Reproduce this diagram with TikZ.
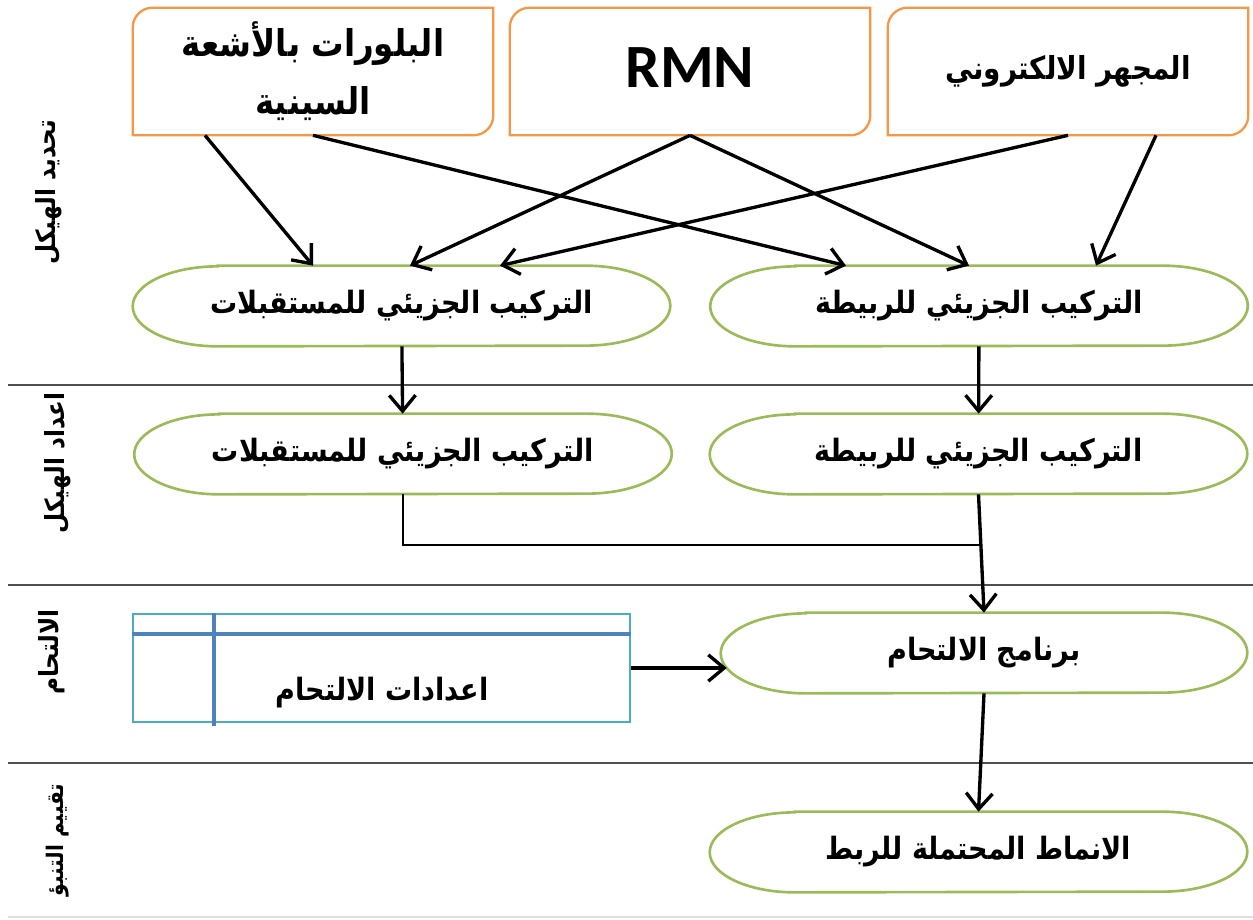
\documentclass[tikz,border=0pt]{standalone}
\usepackage{fontspec}
\setsansfont{Carlito}
\newfontfamily\arabicfont[Script=Arabic, FakeStretch=0.88]{DejaVu Sans}
\TeXXeTstate=1
\usetikzlibrary{calc,arrows.meta}
\definecolor{methodorange}{HTML}{F79646}
\definecolor{stagegreen}{HTML}{9BBB59}
\definecolor{framecyan}{HTML}{4BACC6}
\definecolor{gridblue}{HTML}{4F81BD}
\definecolor{sepgray}{HTML}{505050}
\newcommand{\artxt}[1]{{\arabicfont\bfseries\beginR #1\endR}}

\begin{document}
\begin{tikzpicture}[x=0.02cm, y=-0.02cm, >={Straight Barb[length=9pt,width=15pt]},
  method/.style={minimum width=7.2cm, minimum height=2.54cm, align=center},
  stage/.style={minimum width=10.74cm, minimum height=1.6cm, font=\fontsize{17.5}{21}\selectfont},
  phase/.style={rotate=90, font=\fontsize{15}{18}\selectfont},
  flow/.style={->, line width=1.9pt},
  sepline/.style={draw=sepgray, line width=1.3pt}]
\useasboundingbox (0,0) rectangle (1253,919);

% methods
\node[method, font=\fontsize{21}{33}\selectfont] (XRay) at (313,71.5) {\artxt{البلورات بالأشعة}\\\artxt{السينية}};
\node[method, font=\sffamily\bfseries\fontsize{35}{40}\selectfont, text depth=0pt, text height=18pt] (RMN) at (690,71.5) {RMN};
\node[method, font=\fontsize{18}{22}\selectfont] (Microscope) at (1068,71.5) {\raisebox{-5pt}{\artxt{المجهر الالكتروني}}};
\foreach \n in {XRay,RMN,Microscope}
  \draw[draw=methodorange, line width=1.3pt] (\n.south west) -- ([yshift=-0.4cm]\n.north west) arc[start angle=180, end angle=90, radius=0.4cm]
    -- (\n.north east) -- ([yshift=0.4cm]\n.south east) arc[start angle=0, end angle=-90, radius=0.4cm] -- cycle;

% stages
\node[stage] (ReceptorA) at (401.5,306) {\artxt{التركيب الجزيئي للمستقبلات}};
\node[stage] (LigandA) at (979,306) {\artxt{التركيب الجزيئي للربيطة}};
\node[stage] (ReceptorB) at (403,454) {\artxt{التركيب الجزيئي للمستقبلات}};
\node[stage] (LigandB) at (978.5,454) {\artxt{التركيب الجزيئي للربيطة}};
\node[stage, minimum width=10.52cm] (DockingProgram) at (984,653) {\artxt{برنامج الالتحام}};
\node[stage] (BindingModes) at (978.5,852) {\artxt{الانماط المحتملة للربط}};
\foreach \n in {ReceptorA,LigandA,ReceptorB,LigandB,DockingProgram,BindingModes}
  \draw[draw=stagegreen, line width=1.5pt] ([xshift=1.7cm]\n.north west) -- ([xshift=-1.7cm]\n.north east)
    arc[start angle=90, end angle=-90, x radius=1.7cm, y radius=0.8cm]
    -- ([xshift=1.7cm]\n.south west) arc[start angle=270, end angle=90, x radius=1.7cm, y radius=0.8cm] -- cycle;

\node[draw=framecyan, line width=1.5pt, minimum width=9.94cm, minimum height=2.16cm] (Settings) at (381.5,668) {};
\draw[draw=gridblue, line width=2.2pt] ($(Settings.north west)+(0,21)$) -- ($(Settings.north east)+(0,21)$);
\draw[draw=gridblue, line width=2.2pt] ($(Settings.north west)+(82,0)$) -- ($(Settings.south west)+(82,3)$);
\node[font=\fontsize{17.5}{21}\selectfont] (SettingsText) at (382,693) {\artxt{اعدادات الالتحام}};

% phases
\node[phase] (PhaseA) at (49,192) {\artxt{تحديد الهيكل}};
\node[phase] (PhaseB) at (58,463) {\artxt{اعداد الهيكل}};
\node[phase] (PhaseC) at (52,652) {\artxt{الالتحام}};
\node[phase, font=\fontsize{13}{16}\selectfont] (PhaseD) at (58,840) {\artxt{تقييم التنبؤ}};

\draw[sepline] (8,385) -- (1253,385);
\draw[sepline] (8,585) -- (1253,585);
\draw[sepline] (8,763) -- (1253,763);
\draw[draw=gray!25, line width=0.8pt] (8,917) -- (1253,917);

% connectors
\draw[flow] ($(XRay.south)+(-108,0)$) -- ($(ReceptorA.north)+(-88.5,0)$);
\draw[flow] (XRay.south) -- ($(LigandA.north)+(-133,0)$);
\draw[flow] (RMN.south) -- ($(ReceptorA.north)+(8.5,0)$);
\draw[flow] (RMN.south) -- ($(LigandA.north)+(-10,0)$);
\draw[flow] (Microscope.south) -- ($(ReceptorA.north)+(98.5,0)$);
\draw[flow] ($(Microscope.south)+(88,0)$) -- ($(LigandA.north)+(117,0)$);

\draw[flow] (ReceptorA) -- (ReceptorB);
\draw[flow] (LigandA) -- (LigandB);
\coordinate (Join) at (LigandB.south |- 0,545);
\draw[line width=0.7pt] (ReceptorB.south) |- (Join);
\draw[flow] (LigandB.south) -- (DockingProgram.north);
\draw[flow] (Settings.east) -- ($(Settings.east -| DockingProgram.west)+(6,0)$);
\draw[flow] (DockingProgram.south) -- (BindingModes.north);

\end{tikzpicture}
\end{document}
